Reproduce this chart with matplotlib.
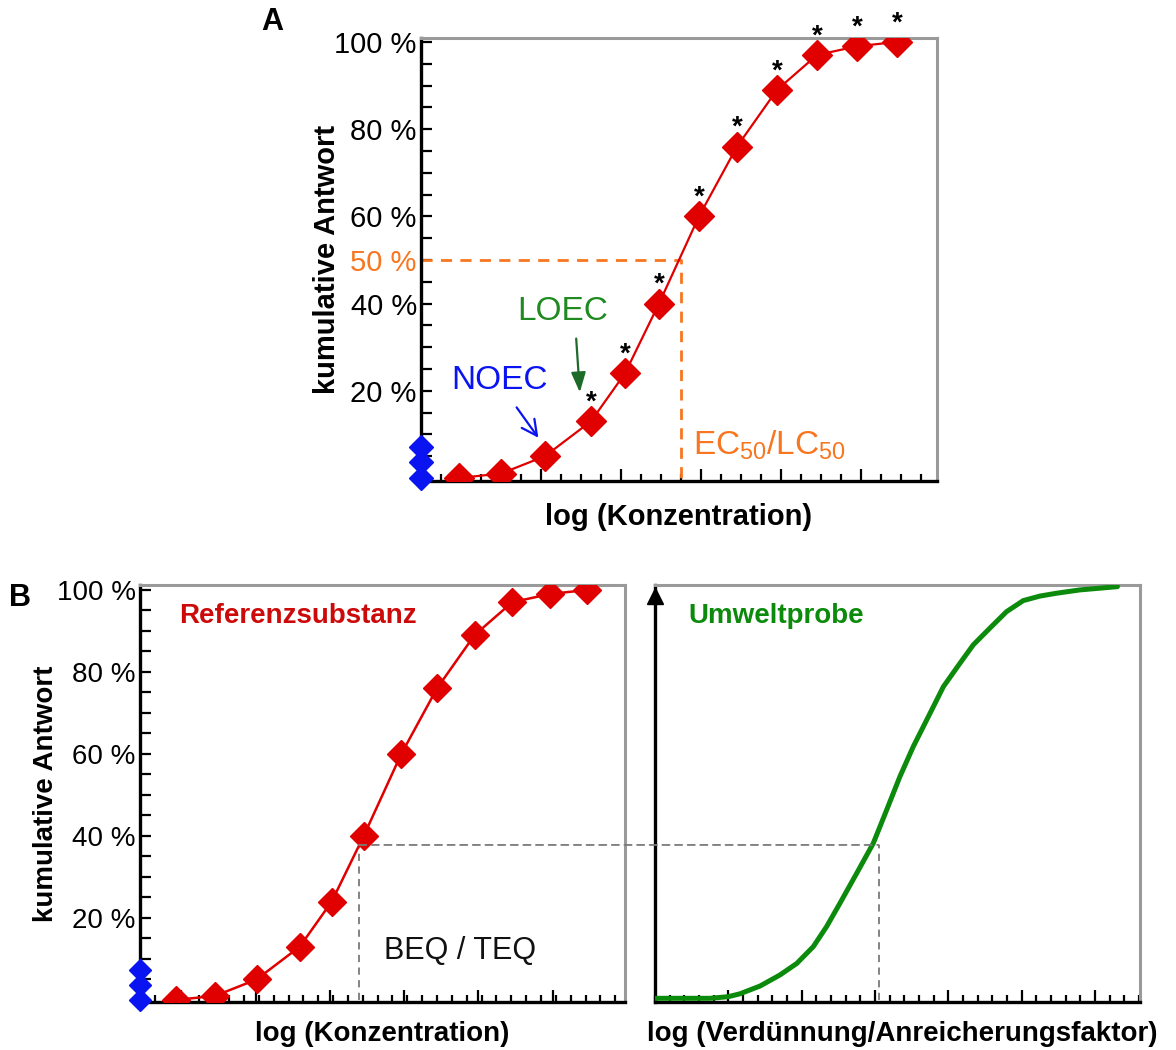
import numpy as np
import matplotlib
matplotlib.use("Agg")
import matplotlib.pyplot as plt
from matplotlib.ticker import MultipleLocator, FixedLocator
from matplotlib.patches import ConnectionPatch

plt.rcParams['font.family'] = ['Liberation Sans', 'DejaVu Sans']
plt.rcParams['mathtext.fontset'] = 'custom'
plt.rcParams['mathtext.rm'] = 'Liberation Sans'
plt.rcParams['mathtext.it'] = 'Liberation Sans'

# dose-response of the reference substance (log concentration steps, % response)
log_conc = [1.9, 4.0, 6.2, 8.5, 10.2, 11.9, 13.9, 15.8, 17.8, 19.8, 21.8, 23.8]
response = [0, 1, 5, 13, 24, 40, 60, 76, 89, 97, 99, 100]
significant = [False, False, False, True, True, True, True, True, True, True, True, True]
controls = [0, 3.6, 7.2]

# environmental sample curve
sample_x = [0, 2.93, 3.9, 4.52, 5.59, 6.65, 7.54, 8.42, 9.13, 9.84, 10.73, 11.61, 12.32,
            13.03, 13.74, 14.63, 15.34, 16.22, 16.93, 17.82, 18.7, 19.59, 20.48, 21.37,
            22.6, 24.6]
sample_y = [0.4, 0.4, 0.8, 1.5, 3.4, 6.1, 8.9, 13.0, 17.9, 23.6, 30.9, 38.2, 46.3,
            54.5, 61.8, 69.9, 76.4, 82.1, 86.6, 90.7, 94.7, 97.4, 98.5, 99.2,
            100.0, 100.8]

ec50_x, ec50_y = 13.0, 50
beq_left_x, beq_right_x, beq_y = 11.65, 11.9, 37.8

ytick_vals = [20, 40, 60, 80, 100]
ytick_labels = ['20 %', '40 %', '60 %', '80 %', '100 %']

RED = '#e00000'
BLUE = '#0a14f0'
ORANGE = '#f7761f'
GREEN = '#0c8a0c'
GRAY = '#9a9a9a'

fig = plt.figure(figsize=(11.76, 10.5), dpi=100)
W, H = 1176, 1050


def add_axes_px(left, top, right, bottom):
    return fig.add_axes([left / W, 1 - bottom / H, (right - left) / W, (bottom - top) / H])


def frame(ax):
    ax.spines['left'].set_color('black')
    ax.spines['bottom'].set_color('black')
    ax.spines['left'].set_linewidth(2.4)
    ax.spines['bottom'].set_linewidth(2.4)
    ax.spines['top'].set_color(GRAY)
    ax.spines['right'].set_color(GRAY)
    ax.spines['top'].set_linewidth(2.2)
    ax.spines['right'].set_linewidth(2.2)
    ax.tick_params(which='both', direction='in', width=1.6, color='black')
    ax.tick_params(axis='x', which='major', length=9)
    ax.tick_params(axis='x', which='minor', length=5)
    ax.tick_params(axis='y', which='major', length=8)
    ax.tick_params(axis='y', which='minor', length=8)
    ax.set_xticklabels([])


# ---------- panel A ----------
axA = add_axes_px(421, 38, 937, 481)
axA.set_xlim(0, 25.8)
axA.set_ylim(-0.7, 100.9)
frame(axA)
axA.xaxis.set_major_locator(FixedLocator([2, 6, 10, 14, 18, 22]))
axA.xaxis.set_minor_locator(MultipleLocator(1))
axA.set_xticklabels([])
axA.set_yticks([20, 40, 50, 60, 80, 100])
axA.set_yticklabels(['20 %', '40 %', '50 %', '60 %', '80 %', '100 %'], fontsize=21)
axA.get_yticklabels()[2].set_color(ORANGE)
axA.yaxis.set_minor_locator(MultipleLocator(5))
axA.tick_params(axis='y', pad=3)

axA.plot([0, ec50_x, ec50_x], [ec50_y, ec50_y, 0], color=ORANGE, lw=2, ls=(0, (4, 3)), zorder=2)
axA.plot(log_conc, response, color=RED, lw=1.6, zorder=3)
axA.plot(log_conc, response, 'D', color=RED, ms=15, mec=RED, zorder=4)
axA.plot([0] * len(controls), controls, 'D', color=BLUE, ms=12, mec=BLUE, zorder=5, clip_on=False)
for x, y, s in zip(log_conc, response, significant):
    if s:
        axA.annotate('*', (x, y), xytext=(0, 4), textcoords='offset points',
                     ha='center', va='bottom', fontsize=20, fontweight='bold')

axA.text(3.9, 22.4, 'NOEC', color=BLUE, fontsize=24, ha='center', va='center')
axA.annotate('', xy=(5.95, 8.7), xytext=(4.7, 16.7),
             arrowprops=dict(arrowstyle='->,head_length=0.55,head_width=0.28',
                             color=BLUE, lw=1.6, mutation_scale=20))
axA.text(7.1, 38.1, 'LOEC', color='#1f8a1f', fontsize=24, ha='center', va='center')
axA.annotate('', xy=(7.95, 19.0), xytext=(7.75, 32.6),
             arrowprops=dict(arrowstyle='-|>,head_length=0.6,head_width=0.22',
                             color='#1e6a28', lw=1.6, mutation_scale=20))
axA.text(13.6, 7.5, r'EC$_{50}$/LC$_{50}$', color=ORANGE, fontsize=24, ha='left', va='center')

axA.set_ylabel('kumulative Antwort', fontsize=21, fontweight='bold')
axA.yaxis.set_label_coords(-0.155, 0.5)
axA.set_xlabel('log (Konzentration)', fontsize=21, fontweight='bold')
axA.xaxis.set_label_coords(0.5, -0.05)
axA.xaxis.label.set_va('top')

# ---------- panel B, reference substance ----------
axL = add_axes_px(140, 585, 625, 1002)
axL.set_xlim(0, 25.8)
axL.set_ylim(-0.5, 101.2)
frame(axL)
axL.xaxis.set_major_locator(FixedLocator(np.arange(2.2, 25, 3.95)))
axL.xaxis.set_minor_locator(MultipleLocator(0.79))
axL.set_xticklabels([])
axL.set_yticks(ytick_vals)
axL.set_yticklabels(ytick_labels, fontsize=20)
axL.yaxis.set_minor_locator(MultipleLocator(5))
axL.tick_params(axis='y', pad=3)

axL.plot([beq_left_x, beq_left_x], [0, beq_y], color='#7a7a7a', lw=1.3, ls=(0, (4, 3)), zorder=2)
axL.plot(log_conc, response, color=RED, lw=1.8, zorder=3)
axL.plot(log_conc, response, 'D', color=RED, ms=14, mec=RED, zorder=4)
axL.plot([0] * len(controls), controls, 'D', color=BLUE, ms=11.5, mec=BLUE, zorder=5, clip_on=False)

axL.text(2.1, 93.7, 'Referenzsubstanz', color='#cc0a0a', fontsize=20, fontweight='bold',
         ha='left', va='center')
axL.text(17.0, 12.0, 'BEQ / TEQ', color='#111111', fontsize=22, ha='center', va='center')

axL.set_ylabel('kumulative Antwort', fontsize=20, fontweight='bold')
axL.yaxis.set_label_coords(-0.167, 0.5)
axL.set_xlabel('log (Konzentration)', fontsize=20, fontweight='bold')
axL.xaxis.set_label_coords(0.5, -0.045)
axL.xaxis.label.set_va('top')

# ---------- panel B, environmental sample ----------
axR = add_axes_px(655, 585, 1140, 1002)
axR.set_xlim(0, 25.8)
axR.set_ylim(-0.5, 101.2)
frame(axR)
axR.xaxis.set_major_locator(FixedLocator(np.arange(3.9, 25, 3.9)))
axR.xaxis.set_minor_locator(MultipleLocator(0.78))
axR.set_xticklabels([])
axR.set_yticks([])
axR.yaxis.set_minor_locator(FixedLocator([]))
axR.plot([0], [0.974], '^', color='black', ms=12, transform=axR.transAxes, clip_on=False, zorder=6)

axR.plot([beq_right_x, beq_right_x], [0, beq_y], color='#7a7a7a', lw=1.3, ls=(0, (4, 3)), zorder=2)
axR.plot(sample_x, sample_y, color=GREEN, lw=3.6, zorder=3,
         solid_capstyle='round', solid_joinstyle='round')
axR.text(1.75, 93.7, 'Umweltprobe', color=GREEN, fontsize=20, fontweight='bold',
         ha='left', va='center')
axR.set_xlabel('log (Verdünnung/Anreicherungsfaktor)', fontsize=20, fontweight='bold')
axR.xaxis.set_label_coords(0.51, -0.045)
axR.xaxis.label.set_va('top')

# dashed link between the two panels at the same response level
link = ConnectionPatch(xyA=(beq_left_x, beq_y), coordsA=axL.transData,
                       xyB=(beq_right_x, beq_y), coordsB=axR.transData,
                       color='#7a7a7a', lw=1.3, ls=(0, (4, 3)), zorder=2)
fig.add_artist(link)

fig.text(272 / W, 1 - 22 / H, 'A', fontsize=22, fontweight='bold', ha='center', va='center')
fig.text(20 / W, 1 - 598 / H, 'B', fontsize=22, fontweight='bold', ha='center', va='center')

fig.savefig('out.png', dpi=100)
